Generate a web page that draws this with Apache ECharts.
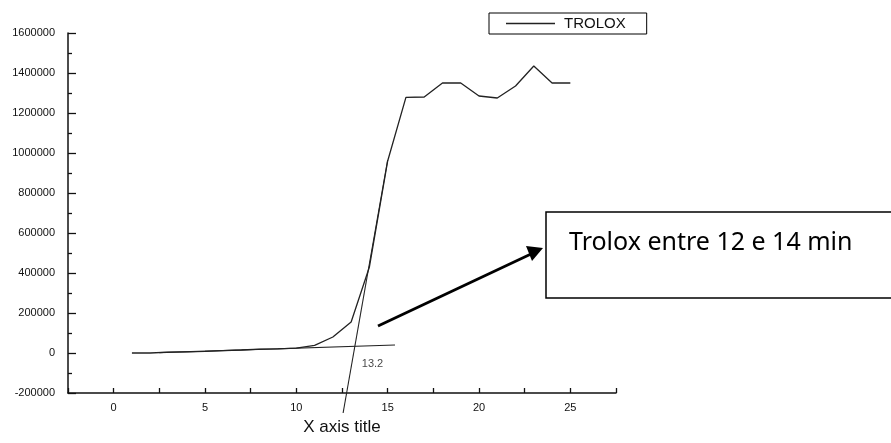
<!DOCTYPE html>
<html lang="en">
<head>
	<meta charset="UTF-8">
	<title>TROLOX</title>
	<script src="https://cdn.jsdelivr.net/npm/echarts@6/dist/echarts.min.js"></script>
	<style>
		html, body { margin: 0; padding: 0; background: #fff; }
		#chart { width: 891px; height: 443px; }
	</style>
</head>
<body>
	<div id="chart"></div>
</body>
<script>
// time (min) and signal of the TROLOX run
var times = [1, 2, 3, 4, 5, 6, 7, 8, 9, 10, 11, 12, 13, 14, 15, 16, 17, 18, 19, 20, 21, 22, 23, 24, 25];
var trolox = [0, 0, 4000, 6000, 8000, 12000, 15000, 19000, 21000, 24000, 38000, 80000, 155000, 430000,
    960000, 1278000, 1280000, 1350000, 1350000, 1285000, 1275000, 1335000, 1435000, 1350000, 1350000];

// tangent lines drawn by hand on the original
var baseTangent = [[2.5, 2000], [15.4, 40000]];
var steepTangent = [[12.56, -300000], [15.0, 965000]];
var crossing = [[13.2, 33000]];

var xLabels = [0, 5, 10, 15, 20, 25];

var myChart = echarts.init(document.getElementById('chart'));

var option = {
    animation: false,
    textStyle: { fontFamily: 'Liberation Sans, Arial, sans-serif' },
    grid: { left: 68, right: 275, top: 33, bottom: 50 },
    legend: {
        data: ['TROLOX'],
        left: 489,
        top: 13,
        icon: 'rect',
        itemWidth: 49,
        itemHeight: 1.3,
        itemGap: 0,
        padding: [3, 21, 3, 17],
        borderColor: '#000',
        borderWidth: 1,
        borderRadius: 0,
        itemStyle: { color: '#222' },
        textStyle: { fontSize: 15, color: '#111', padding: [0, 0, 0, 4] }
    },
    xAxis: {
        type: 'value',
        min: -2.5,
        max: 27.5,
        interval: 2.5,
        name: 'X axis title',
        nameLocation: 'middle',
        nameGap: 26,
        nameTextStyle: { fontSize: 17, color: '#111' },
        splitLine: { show: false },
        axisLine: { onZero: false, lineStyle: { color: '#111', width: 1.5 } },
        axisTick: { inside: true, length: 5, lineStyle: { color: '#111', width: 1.3 } },
        axisLabel: {
            fontSize: 11,
            color: '#111',
            margin: 9,
            formatter: function (v) {
                return xLabels.indexOf(v) >= 0 ? String(v) : '';
            }
        }
    },
    yAxis: {
        type: 'value',
        min: -200000,
        max: 1600000,
        interval: 200000,
        splitLine: { show: false },
        axisLine: { onZero: false, lineStyle: { color: '#111', width: 1.5 } },
        axisTick: { inside: true, length: 8, lineStyle: { color: '#111', width: 1.3 } },
        minorTick: { show: true, splitNumber: 2, length: 4, lineStyle: { color: '#111', width: 1.3 } },
        axisLabel: {
            fontSize: 11,
            color: '#111',
            margin: 13,
            formatter: function (v) { return String(v); }
        }
    },
    series: [
        {
            name: 'TROLOX',
            type: 'line',
            symbol: 'none',
            data: times.map(function (t, i) { return [t, trolox[i]]; }),
            lineStyle: { color: '#222', width: 1.3 }
        },
        {
            type: 'line',
            symbol: 'none',
            data: baseTangent,
            lineStyle: { color: '#222', width: 1.1 }
        },
        {
            type: 'line',
            symbol: 'none',
            clip: false,
            data: steepTangent,
            lineStyle: { color: '#222', width: 1.1 }
        },
        {
            type: 'scatter',
            symbolSize: 0,
            data: crossing,
            label: {
                show: true,
                position: [7, 12],
                formatter: '13.2',
                fontSize: 11,
                color: '#111'
            }
        }
    ],
    graphic: [
        {
            type: 'line',
            shape: { x1: 378, y1: 326, x2: 531, y2: 254 },
            style: { stroke: '#000', lineWidth: 2.8 }
        },
        {
            type: 'polygon',
            shape: { points: [[543, 248], [526, 246], [532, 261]] },
            style: { fill: '#000' }
        },
        {
            type: 'rect',
            shape: { x: 546, y: 212, width: 400, height: 86 },
            style: { fill: '#fff', stroke: '#000', lineWidth: 1.5 }
        },
        {
            type: 'text',
            left: 569,
            top: 230,
            style: {
                text: 'Trolox entre 12 e 14 min',
                font: '25px "Noto Sans", sans-serif',
                fill: '#000'
            }
        }
    ]
};

myChart.setOption(option);
</script>
</html>
